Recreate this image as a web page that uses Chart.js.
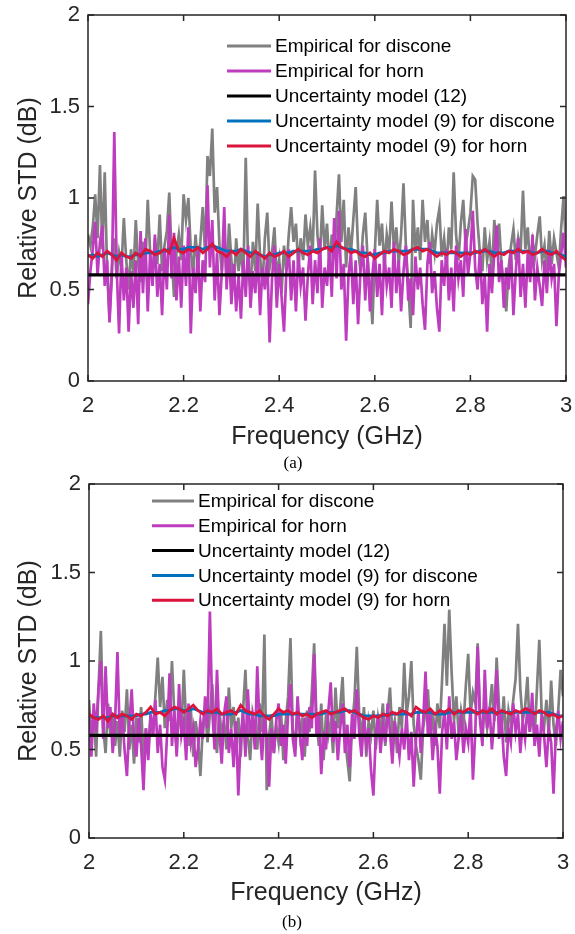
<!DOCTYPE html>
<html>
<head>
<meta charset="utf-8">
<script src="https://cdn.jsdelivr.net/npm/chart.js@4.4.1/dist/chart.umd.min.js"></script>
<style>
  body { margin: 0; background: #fff; }
  #wrap { position: relative; width: 575px; height: 934px; overflow: hidden; }
  canvas { position: absolute; left: 0; }
  .cap { position: absolute; width: 80px; text-align: center; font-family: "Liberation Serif", "DejaVu Serif", serif; font-size: 17px; line-height: 20px; color: #000; }
</style>
</head>
<body>
<div id="wrap">
  <canvas id="chartA" width="575" height="470" style="top:0"></canvas>
  <canvas id="chartB" width="575" height="464" style="top:470px"></canvas>
  <div class="cap" style="left:253px;top:453px">(a)</div>
  <div class="cap" style="left:252px;top:912px">(b)</div>
</div>
<script>
// axis ticks
const xTicks = [2, 2.2, 2.4, 2.6, 2.8, 3];
const yTicks = [0, 0.5, 1, 1.5, 2];

const labels = [
  'Empirical for discone',
  'Empirical for horn',
  'Uncertainty model (12)',
  'Uncertainty model (9) for discone',
  'Uncertainty model (9) for horn'
];

// sweep: 201 samples for the empirical curves, 101 for the model curves
const freqStart = 2, freqStop = 3;

// (a) empirical
const disconeA = [
  0.80, 0.74, 0.84, 1.02, 0.78, 1.18, 0.72, 1.14, 0.60, 0.35,
  0.62, 0.78, 0.56, 0.70, 0.62, 0.89, 0.66, 0.50, 0.72, 0.58,
  0.88, 0.64, 0.54, 0.76, 0.62, 0.99, 0.70, 0.56, 0.78, 0.64,
  0.91, 0.60, 0.74, 0.82, 1.03, 0.68, 0.46, 0.70, 0.80, 0.66,
  1.02, 0.88, 1.00, 0.72, 0.58, 0.80, 0.62, 0.76, 0.95, 0.70,
  1.23, 1.12, 1.38, 0.92, 1.06, 0.74, 0.60, 0.82, 0.54, 0.86,
  0.66, 0.50, 0.78, 0.60, 0.72, 0.56, 1.22, 0.64, 0.50, 0.76,
  0.60, 0.97, 0.68, 0.52, 0.78, 0.92, 0.62, 0.70, 0.84, 0.56,
  0.66, 0.48, 0.74, 0.60, 0.80, 0.95, 0.76, 0.86, 0.62, 0.78,
  0.66, 0.91, 0.74, 0.84, 0.70, 1.15, 0.80, 0.66, 0.96, 0.72,
  0.86, 0.62, 0.80, 0.68, 0.90, 1.13, 0.76, 0.99, 0.62, 0.84,
  0.70, 0.88, 1.06, 0.72, 0.60, 0.80, 0.92, 0.66, 0.52, 0.31,
  0.70, 0.99, 0.74, 0.86, 0.62, 0.80, 0.70, 0.98, 0.72, 0.84,
  0.64, 0.80, 1.08, 0.74, 0.52, 0.29, 0.99, 0.70, 0.84, 0.66,
  0.99, 0.76, 0.88, 0.64, 0.80, 0.70, 0.86, 0.94, 0.68, 0.78,
  0.62, 0.84, 0.72, 1.14, 0.80, 0.66, 0.86, 0.99, 0.74, 0.82,
  0.92, 1.12, 1.10, 0.86, 0.70, 0.60, 0.84, 0.66, 0.76, 0.58,
  0.88, 0.70, 0.86, 0.64, 0.52, 0.38, 0.62, 0.74, 0.83, 0.66,
  0.78, 0.70, 1.04, 0.72, 0.84, 0.62, 0.76, 0.68, 0.80, 0.90,
  0.66, 0.74, 0.58, 0.82, 0.64, 0.78, 0.70, 0.62, 0.84, 1.01,
  0.72
];
const hornA = [
  0.42, 0.60, 0.72, 0.87, 0.58, 0.76, 0.85, 0.52, 0.66, 0.32,
  0.58, 1.36, 0.62, 0.26, 0.70, 0.44, 0.62, 0.27, 0.60, 0.40,
  0.66, 0.31, 0.82, 0.48, 0.78, 0.38, 0.70, 0.52, 0.80, 0.46,
  0.64, 0.36, 0.72, 0.50, 0.91, 0.56, 0.81, 0.44, 0.68, 0.40,
  0.74, 0.52, 0.84, 0.26, 0.62, 0.48, 0.72, 0.38, 0.66, 0.54,
  1.07, 0.62, 0.88, 0.44, 0.70, 0.36, 0.60, 0.95, 0.50, 0.72,
  0.42, 0.64, 0.38, 0.58, 0.34, 0.66, 0.46, 0.74, 0.40, 0.60,
  0.48, 0.70, 0.36, 0.62, 0.50, 0.68, 0.21, 0.56, 0.74, 0.40,
  0.64, 0.46, 0.27, 0.60, 0.72, 0.44, 0.66, 0.38, 0.70, 0.52,
  0.62, 0.33, 0.58, 0.74, 0.42, 0.66, 0.48, 0.78, 0.40, 0.62,
  0.52, 0.72, 0.46, 0.89, 0.56, 0.93, 0.50, 0.64, 0.22, 0.58,
  0.70, 0.42, 0.66, 0.31, 0.60, 0.74, 0.44, 0.68, 0.38, 0.58,
  0.72, 0.46, 0.64, 0.36, 0.70, 0.52, 0.62, 0.40, 0.76, 0.48,
  0.66, 0.38, 0.60, 0.74, 0.44, 0.56, 0.36, 0.68, 0.50, 0.62,
  0.42, 0.28, 0.64, 0.76, 0.48, 0.60, 0.40, 0.27, 0.66, 0.52,
  0.72, 0.44, 0.62, 0.38, 0.74, 0.56, 0.66, 0.46, 0.83, 0.58,
  0.70, 0.93, 0.62, 0.50, 0.72, 0.42, 0.58, 0.27, 0.64, 0.48,
  0.70, 0.85, 0.54, 0.66, 0.40, 0.62, 0.50, 0.72, 0.36, 0.60,
  0.78, 0.46, 0.64, 0.40, 0.70, 0.54, 0.80, 0.44, 0.62, 0.52,
  0.41, 0.66, 0.48, 0.72, 0.56, 0.64, 0.30, 0.58, 0.70, 0.81,
  0.62
];
// (a) models
const modelDisconeA = [
  0.68, 0.69, 0.68, 0.69, 0.70, 0.69, 0.68, 0.69, 0.68, 0.68,
  0.69, 0.69, 0.70, 0.70, 0.70, 0.71, 0.71, 0.72, 0.73, 0.72,
  0.72, 0.73, 0.73, 0.73, 0.72, 0.73, 0.74, 0.73, 0.72, 0.71,
  0.71, 0.71, 0.72, 0.71, 0.70, 0.70, 0.69, 0.68, 0.69, 0.69,
  0.70, 0.70, 0.70, 0.71, 0.71, 0.71, 0.71, 0.71, 0.72, 0.72,
  0.73, 0.73, 0.74, 0.73, 0.72, 0.72, 0.71, 0.70, 0.70, 0.69,
  0.69, 0.70, 0.70, 0.71, 0.71, 0.71, 0.71, 0.71, 0.72, 0.72,
  0.72, 0.72, 0.71, 0.70, 0.70, 0.70, 0.70, 0.70, 0.70, 0.70,
  0.70, 0.70, 0.71, 0.71, 0.71, 0.70, 0.70, 0.70, 0.71, 0.71,
  0.71, 0.71, 0.71, 0.70, 0.70, 0.71, 0.71, 0.70, 0.70, 0.69,
  0.68
];
const modelHornA = [
  0.69, 0.67, 0.70, 0.68, 0.71, 0.69, 0.66, 0.70, 0.68, 0.67,
  0.70, 0.68, 0.72, 0.71, 0.69, 0.70, 0.72, 0.70, 0.78, 0.71,
  0.70, 0.72, 0.71, 0.73, 0.70, 0.72, 0.75, 0.71, 0.70, 0.68,
  0.71, 0.69, 0.72, 0.70, 0.68, 0.71, 0.69, 0.67, 0.70, 0.68,
  0.69, 0.71, 0.68, 0.70, 0.72, 0.70, 0.69, 0.71, 0.70, 0.72,
  0.73, 0.71, 0.76, 0.73, 0.72, 0.70, 0.71, 0.69, 0.68, 0.70,
  0.67, 0.69, 0.71, 0.70, 0.72, 0.71, 0.69, 0.70, 0.72, 0.73,
  0.71, 0.72, 0.70, 0.68, 0.70, 0.69, 0.71, 0.70, 0.68, 0.70,
  0.69, 0.71, 0.70, 0.72, 0.70, 0.68, 0.70, 0.69, 0.71, 0.70,
  0.72, 0.70, 0.71, 0.69, 0.70, 0.72, 0.70, 0.69, 0.71, 0.68,
  0.66
];

// (b) empirical
const disconeB = [
  0.78, 0.56, 0.72, 0.46, 0.84, 1.17, 0.62, 0.48, 0.76, 0.58,
  0.70, 0.52, 0.66, 0.46, 0.72, 0.60, 0.84, 0.50, 0.64, 0.42,
  0.68, 0.54, 0.74, 0.44, 0.62, 0.50, 0.70, 0.58, 0.80, 1.02,
  0.74, 0.91, 0.62, 0.78, 0.66, 1.00, 0.70, 0.48, 0.76, 0.60,
  0.95, 0.64, 0.52, 0.72, 0.46, 0.66, 0.56, 0.35, 0.62, 0.74,
  0.54, 0.70, 0.87, 0.60, 0.48, 0.72, 0.58, 0.66, 0.50, 0.85,
  0.62, 0.74, 0.52, 0.68, 0.46, 0.72, 0.95, 0.58, 0.44, 0.70,
  0.62, 0.50, 0.76, 0.60, 1.15, 0.27, 0.58, 0.70, 0.48, 0.64,
  0.54, 0.72, 0.44, 0.66, 0.80, 1.13, 0.62, 0.50, 0.74, 0.58,
  0.68, 0.46, 0.72, 0.60, 0.82, 1.10, 0.66, 0.52, 0.76, 0.44,
  0.70, 0.58, 0.66, 0.48, 0.85, 0.62, 0.74, 0.91, 0.56, 0.44,
  0.32, 0.64, 0.78, 1.08, 0.70, 0.56, 0.74, 0.46, 0.66, 0.58,
  0.72, 0.50, 0.68, 0.60, 0.76, 0.52, 0.70, 0.85, 0.58, 0.66,
  0.48, 0.74, 0.62, 0.99, 0.70, 0.80, 1.00, 0.64, 0.52, 0.44,
  0.33, 0.62, 0.72, 0.84, 0.58, 0.70, 0.52, 0.76, 0.62, 0.90,
  1.21, 0.86, 1.29, 0.94, 0.66, 0.80, 0.58, 0.72, 0.64, 0.86,
  1.04, 0.70, 0.82, 0.76, 1.10, 0.68, 0.58, 0.76, 0.62, 0.72,
  0.87, 0.66, 1.02, 0.74, 0.60, 0.80, 0.54, 0.72, 0.64, 0.78,
  0.90, 1.21, 0.84, 0.66, 0.74, 0.91, 0.60, 0.72, 0.56, 0.84,
  1.12, 0.70, 0.62, 0.78, 0.58, 0.89, 0.64, 0.52, 0.72, 0.95,
  0.80
];
const hornB = [
  0.72, 0.46, 0.76, 0.60, 0.84, 1.00, 0.56, 0.97, 0.62, 0.74,
  0.48, 0.66, 1.05, 0.58, 0.70, 0.50, 0.35, 0.64, 0.84, 0.56,
  0.46, 0.68, 0.52, 0.27, 0.62, 0.44, 0.70, 0.58, 0.78, 0.48,
  0.64, 0.40, 0.33, 0.60, 0.93, 0.52, 0.72, 0.46, 0.87, 0.58,
  0.66, 0.44, 0.76, 0.54, 0.62, 0.40, 0.51, 0.66, 0.56, 0.80,
  0.62, 1.28, 0.72, 0.50, 0.95, 0.60, 0.42, 0.70, 0.80, 0.48,
  0.62, 0.40, 0.66, 0.24, 0.56, 0.72, 0.46, 0.84, 0.58, 0.68,
  0.50, 0.97, 0.62, 0.44, 0.70, 0.56, 0.29, 0.62, 0.48, 0.66,
  0.76, 0.52, 0.64, 0.42, 0.70, 0.87, 0.56, 0.46, 0.80, 0.60,
  0.44, 0.68, 0.52, 0.74, 0.62, 1.04, 0.58, 0.70, 0.36, 0.60,
  0.50, 0.72, 0.88, 0.54, 0.66, 0.44, 0.62, 0.76, 0.48, 0.64,
  0.40, 0.70, 0.56, 0.84, 0.60, 0.46, 0.68, 0.52, 0.62, 0.38,
  0.24, 0.58, 0.70, 0.48, 0.64, 0.54, 0.76, 0.60, 0.42, 0.66,
  0.56, 0.46, 0.62, 0.50, 0.70, 0.44, 0.60, 0.29, 0.56, 0.72,
  0.48, 0.66, 0.94, 0.58, 0.70, 0.44, 0.62, 0.52, 0.25, 0.60,
  0.72, 0.50, 0.80, 0.56, 0.66, 0.44, 0.57, 0.70, 0.48, 0.62,
  0.54, 0.74, 0.33, 0.60, 1.08, 0.66, 0.52, 0.95, 0.62, 0.74,
  0.50, 0.68, 0.95, 0.56, 0.70, 0.46, 0.35, 0.62, 0.54, 0.76,
  0.60, 0.70, 0.48, 0.66, 0.56, 0.74, 0.60, 0.82, 0.52, 0.64,
  0.46, 0.70, 0.58, 0.40, 0.62, 0.54, 0.25, 0.60, 0.72, 0.56,
  0.66
];
// (b) models
const modelDisconeB = [
  0.69, 0.68, 0.68, 0.68, 0.68, 0.69, 0.69, 0.69, 0.69, 0.69,
  0.69, 0.70, 0.70, 0.71, 0.71, 0.71, 0.72, 0.72, 0.73, 0.73,
  0.72, 0.72, 0.73, 0.72, 0.71, 0.71, 0.71, 0.71, 0.70, 0.70,
  0.70, 0.71, 0.72, 0.71, 0.70, 0.70, 0.69, 0.69, 0.69, 0.69,
  0.70, 0.70, 0.70, 0.70, 0.70, 0.70, 0.70, 0.70, 0.70, 0.70,
  0.71, 0.71, 0.71, 0.71, 0.72, 0.72, 0.71, 0.70, 0.69, 0.69,
  0.69, 0.69, 0.69, 0.70, 0.70, 0.70, 0.70, 0.70, 0.70, 0.71,
  0.71, 0.71, 0.71, 0.70, 0.70, 0.70, 0.71, 0.71, 0.71, 0.71,
  0.71, 0.71, 0.71, 0.71, 0.71, 0.71, 0.71, 0.71, 0.71, 0.71,
  0.71, 0.71, 0.71, 0.71, 0.71, 0.71, 0.71, 0.71, 0.70, 0.69,
  0.69
];
const modelHornB = [
  0.70, 0.68, 0.67, 0.69, 0.66, 0.70, 0.68, 0.70, 0.69, 0.67,
  0.70, 0.69, 0.71, 0.74, 0.70, 0.71, 0.69, 0.72, 0.74, 0.73,
  0.71, 0.73, 0.75, 0.72, 0.70, 0.72, 0.71, 0.73, 0.70, 0.71,
  0.72, 0.70, 0.75, 0.72, 0.71, 0.70, 0.72, 0.69, 0.67, 0.70,
  0.73, 0.71, 0.72, 0.70, 0.71, 0.69, 0.70, 0.68, 0.70, 0.71,
  0.72, 0.70, 0.71, 0.72, 0.73, 0.71, 0.72, 0.70, 0.68, 0.67,
  0.69, 0.68, 0.70, 0.69, 0.71, 0.70, 0.72, 0.71, 0.69, 0.74,
  0.72, 0.71, 0.73, 0.70, 0.72, 0.71, 0.73, 0.70, 0.72, 0.71,
  0.73, 0.72, 0.70, 0.72, 0.71, 0.73, 0.70, 0.72, 0.71, 0.70,
  0.72, 0.71, 0.73, 0.72, 0.70, 0.72, 0.71, 0.69, 0.70, 0.68,
  0.69
];

// model (12) is flat
const model12Level = 0.58;

const colors = {
  discone: '#808080',
  horn: '#BE3CBE',
  model12: '#000000',
  model9Discone: '#0072BD',
  model9Horn: '#DC143C'
};
const axisColor = '#262626';
const fontFamily = '"Liberation Sans", Arial, sans-serif';

function toPoints(values) {
  const step = (freqStop - freqStart) / (values.length - 1);
  return values.map((v, i) => ({ x: freqStart + i * step, y: v }));
}

// frame + inward ticks on all four sides, like a matlab box
const boxPlugin = {
  id: 'box',
  afterDraw(chart) {
    const { ctx, chartArea: a, scales } = chart;
    const tl = 6;
    ctx.save();
    ctx.strokeStyle = axisColor;
    ctx.lineWidth = 1.5;
    ctx.strokeRect(a.left, a.top, a.right - a.left, a.bottom - a.top);
    ctx.beginPath();
    xTicks.forEach(v => {
      const px = scales.x.getPixelForValue(v);
      ctx.moveTo(px, a.bottom); ctx.lineTo(px, a.bottom - tl);
      ctx.moveTo(px, a.top); ctx.lineTo(px, a.top + tl);
    });
    yTicks.forEach(v => {
      const py = scales.y.getPixelForValue(v);
      ctx.moveTo(a.left, py); ctx.lineTo(a.left + tl, py);
      ctx.moveTo(a.right, py); ctx.lineTo(a.right - tl, py);
    });
    ctx.stroke();
    ctx.restore();
  }
};

// legend drawn inside the axes, no frame
const insideLegend = {
  id: 'insideLegend',
  afterDraw(chart, args, opts) {
    const { ctx } = chart;
    ctx.save();
    ctx.font = '19px ' + fontFamily;
    ctx.textBaseline = 'middle';
    ctx.fillStyle = '#000';
    chart.data.datasets.forEach((ds, i) => {
      const y = opts.top + i * opts.step;
      ctx.strokeStyle = ds.borderColor;
      ctx.lineWidth = 3;
      ctx.beginPath();
      ctx.moveTo(opts.lineFrom, y);
      ctx.lineTo(opts.lineTo, y);
      ctx.stroke();
      ctx.fillText(ds.label, opts.textX, y + 1);
    });
    ctx.restore();
  }
};

function makeChart(id, d, lay) {
  const datasets = [
    { label: labels[0], data: toPoints(d.discone), borderColor: colors.discone, borderWidth: 2.7, order: 5 },
    { label: labels[1], data: toPoints(d.horn), borderColor: colors.horn, borderWidth: 2.7, order: 4 },
    { label: labels[2], data: toPoints([model12Level, model12Level]), borderColor: colors.model12, borderWidth: 3.2, order: 3 },
    { label: labels[3], data: toPoints(d.m9discone), borderColor: colors.model9Discone, borderWidth: 2.8, order: 2 },
    { label: labels[4], data: toPoints(d.m9horn), borderColor: colors.model9Horn, borderWidth: 2.8, order: 1 }
  ];
  datasets.forEach(ds => { ds.pointRadius = 0; ds.tension = 0; ds.fill = false; });

  return new Chart(document.getElementById(id), {
    type: 'line',
    data: { datasets },
    options: {
      responsive: false,
      animation: false,
      devicePixelRatio: 1,
      layout: { padding: { top: lay.top, right: lay.right, left: 0, bottom: 0 } },
      plugins: {
        legend: { display: false },
        tooltip: { enabled: false },
        insideLegend: lay.legend
      },
      scales: {
        x: {
          type: 'linear', min: 2, max: 3,
          grid: { display: false, drawTicks: false },
          border: { display: false },
          afterBuildTicks: s => { s.ticks = xTicks.map(v => ({ value: v })); },
          afterFit: s => { s.height = lay.xHeight; s.paddingLeft = 0; s.paddingRight = 0; },
          ticks: { color: axisColor, padding: 12, maxRotation: 0, callback: v => String(v), font: { family: fontFamily, size: 22 } },
          title: { display: true, text: 'Frequency (GHz)', color: axisColor, padding: { bottom: lay.xTitlePad, top: 0 }, font: { family: fontFamily, size: 25 } }
        },
        y: {
          min: 0, max: 2,
          grid: { display: false, drawTicks: false },
          border: { display: false },
          afterBuildTicks: s => { s.ticks = yTicks.map(v => ({ value: v })); },
          afterFit: s => { s.width = lay.yWidth; s.paddingTop = 0; s.paddingBottom = 0; },
          ticks: { color: axisColor, padding: 8, callback: v => String(v), font: { family: fontFamily, size: 22 } },
          title: { display: true, text: 'Relative STD (dB)', color: axisColor, padding: { top: 14, bottom: 0 }, font: { family: fontFamily, size: 25 } }
        }
      }
    },
    plugins: [boxPlugin, insideLegend]
  });
}

makeChart('chartA',
  { discone: disconeA, horn: hornA, m9discone: modelDisconeA, m9horn: modelHornA },
  { top: 15, right: 9, yWidth: 88, xHeight: 89, xTitlePad: 18,
    legend: { top: 46, step: 25, lineFrom: 227, lineTo: 271, textX: 275 } });

makeChart('chartB',
  { discone: disconeB, horn: hornB, m9discone: modelDisconeB, m9horn: modelHornB },
  { top: 14, right: 12, yWidth: 89, xHeight: 96, xTitlePad: 26,
    legend: { top: 31, step: 24.8, lineFrom: 152, lineTo: 194, textX: 198 } });
</script>
</body>
</html>
